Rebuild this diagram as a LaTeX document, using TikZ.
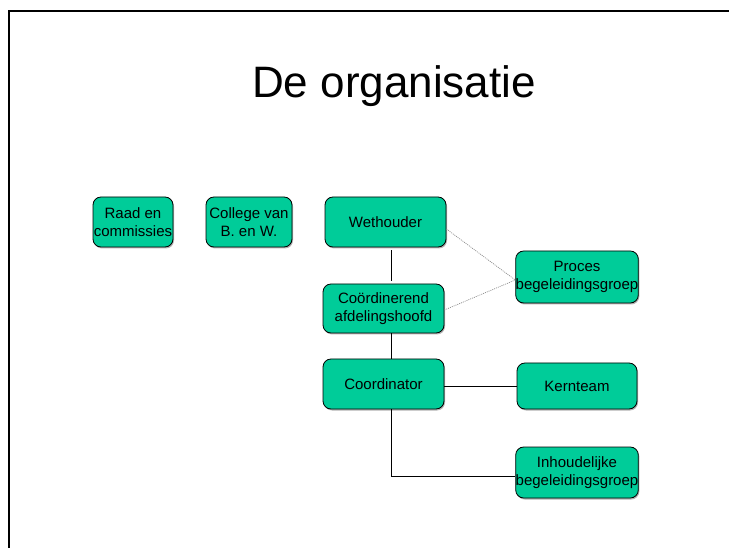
\documentclass[tikz,border=0pt]{standalone}
\usepackage{fontspec}
\setmainfont{Liberation Sans}
\usetikzlibrary{shadows}
\definecolor{boxgreen}{RGB}{0,204,153}

\begin{document}
\begin{tikzpicture}[x=1pt,y=-1pt,
        box/.style={draw=black, fill=boxgreen, rounded corners=8pt, line width=0.8pt,
            inner sep=0pt, align=center, font=\fontsize{15}{17.5}\selectfont,
            drop shadow={shadow xshift=1pt, shadow yshift=-1.5pt, fill=black!60}},
        link/.style={line width=1pt},
        softlink/.style={draw=black!45, line width=0.7pt, dash pattern=on 1pt off 1pt}]
            \useasboundingbox (0,0) rectangle (729,548);

            % slide frame
            \draw[line width=1.3pt] (729,11) -- (9,11) -- (9,548);

            \node[anchor=base, font=\fontsize{44}{53}\selectfont] (titel) at (394,98) {De organisatie};

            \node[box, minimum width=80pt, minimum height=50pt] (raad) at (133,222) {Raad en\\commissies};
            \node[box, minimum width=86pt, minimum height=50pt] (college) at (249,222) {College van\\B. en W.};
            \node[box, minimum width=121pt, minimum height=50pt] (weth) at (385.5,222) {Wethouder};
            \node[box, minimum width=121pt, minimum height=49pt] (coord) at (383.5,308.5) {Coördinerend\\afdelingshoofd};
            \node[box, minimum width=120pt, minimum height=52pt] (proces) at (577,277) {Proces\\begeleidingsgroep};
            \node[box, minimum width=121pt, minimum height=50pt] (coordinator) at (383.5,384) {Coordinator};
            \node[box, minimum width=120pt, minimum height=46pt] (kern) at (577,386) {Kernteam};
            \node[box, minimum width=120pt, minimum height=51pt] (inhoud) at (577,472.5) {Inhoudelijke\\begeleidingsgroep};

            \coordinate (spine) at (391,300);
            \coordinate (meet) at ([yshift=-3pt]proces.west);

            \draw[link, shorten <=3pt, shorten >=3pt] (weth.south -| spine) -- (coord.north -| spine);
            \draw[link] (coord.south -| spine) -- (coordinator.north -| spine);
            \draw[link] (kern.west -| coordinator.east) -- (kern.west);
            \draw[link] (coordinator.south -| spine) |- ([yshift=-3.5pt]inhoud.west);

            \draw[softlink] ([yshift=-7pt]weth.east) -- (meet);
            \draw[softlink] ([yshift=-1.5pt]coord.east) -- (meet);
        \end{tikzpicture}
\end{document}
